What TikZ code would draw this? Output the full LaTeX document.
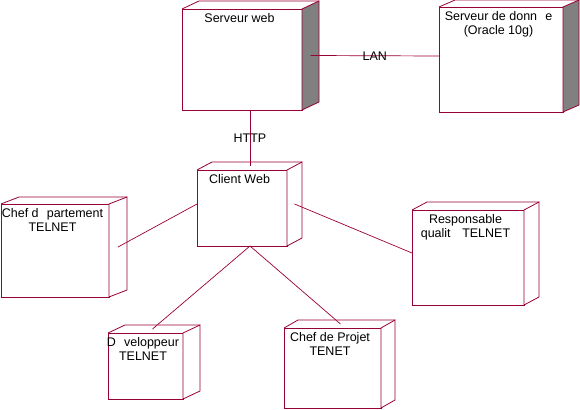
\documentclass[tikz,border=0pt]{standalone}
\usepackage{fontspec}
\setmainfont{Liberation Sans}
\usetikzlibrary{calc}
\definecolor{nodeline}{RGB}{153,0,51}
\definecolor{sideshade}{RGB}{128,128,128}
\newcommand{\gap}{\hspace{0.65em}}

\begin{document}
\begin{tikzpicture}[x=1pt, y=-1pt,
    front/.style={draw=nodeline, line width=0.8pt, fill=white, inner sep=0pt, outer sep=0pt},
    nodetext/.style={anchor=north, inner sep=0pt, align=center, font=\fontsize{12.5}{14}\selectfont, xshift=-2.5pt, yshift=-4pt},
    depth/.style={draw=nodeline, line width=0.8pt},
    link/.style={draw=nodeline, line width=0.7pt},
    linklabel/.style={inner sep=0pt, font=\fontsize{12.5}{14}\selectfont}]
  \useasboundingbox (0,0) rectangle (580,409);

  % front faces of the nodes
  \node[front, minimum width=120, minimum height=101] (web) at (242,59.5) {};
  \node[front, minimum width=124, minimum height=105] (db) at (501,59.5) {};
  \node[front, minimum width=90, minimum height=76] (client) at (242,208) {};
  \node[front, minimum width=108, minimum height=93] (chefdep) at (55,250.5) {};
  \node[front, minimum width=112, minimum height=95] (resp) at (468,257.5) {};
  \node[front, minimum width=75, minimum height=66] (dev) at (145.5,366) {};
  \node[front, minimum width=97, minimum height=80] (proj) at (332.5,368) {};

  % top and side faces
  \foreach \n/\dx/\dy/\shade in {web/17/-8/sideshade, db/16/-7/sideshade, client/15/-8/white,
      chefdep/18/-7/white, resp/15/-8/white, dev/17/-8/white, proj/14/-8/white}
  {
    \draw[depth, fill=\shade] (\n.north east) -- ++(\dx,\dy) -- ($(\n.south east)+(\dx,\dy)$) -- (\n.south east) -- cycle;
    \draw[depth] (\n.north west) -- ++(\dx,\dy) -- ($(\n.north east)+(\dx,\dy)$);
  }

  % node texts
  \node[nodetext] (webtext) at (web.north) {Serveur web};
  \node[nodetext] (dbtext) at (db.north) {Serveur de donn\gap e\\(Oracle 10g)};
  \node[nodetext] (clienttext) at (client.north) {Client Web};
  \node[nodetext] (chefdeptext) at (chefdep.north) {Chef d\gap partement\\TELNET};
  \node[nodetext] (resptext) at (resp.north) {Responsable\\qualit\gap\ TELNET};
  \node[nodetext] (devtext) at (dev.north) {D\gap veloppeur\\TELNET};
  \node[nodetext] (projtext) at (proj.north) {Chef de Projet\\TENET};

  % connections
  \draw[link] ($(web.east)+(8.5,-4)$) -- ($(db.west)+(0,-3.5)$) node[linklabel, pos=0.5] (lan) {LAN};
  \draw[link] ($(web.south)+(8,0)$) -- ($(client.north)+(8,-4)$) node[linklabel, pos=0.5] (http) {HTTP};
  \draw[link] ($(client.west)+(0,-4)$) -- ($(chefdep.east)+(9,-3.5)$);
  \draw[link] ($(client.east)+(7.5,-4)$) -- ($(resp.west)+(0,-4.5)$);
  \draw[link] ($(client.south)+(8,0)$) -- ($(dev.north)+(7,-4)$);
  \draw[link] ($(client.south)+(8,0)$) -- ($(proj.north)+(8,-4)$);
\end{tikzpicture}
\end{document}
